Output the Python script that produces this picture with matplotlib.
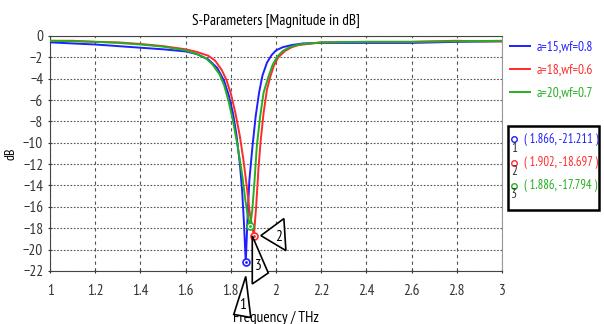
import matplotlib.pyplot as plt
import numpy as np
from matplotlib.patches import Polygon, Rectangle

plt.rcParams['font.family'] = ['PT Sans Narrow', 'DejaVu Sans']

blue = '#1f1fff'
red = '#ff2a2a'
green = '#22b022'

# S11 traces (frequency in THz, magnitude in dB)
f_a15 = [1.0, 1.1, 1.2, 1.3, 1.4, 1.5, 1.6, 1.65, 1.7, 1.74, 1.77, 1.79, 1.81, 1.825,
         1.84, 1.85, 1.858, 1.866, 1.874, 1.882, 1.895, 1.91, 1.925, 1.94, 1.96, 1.98,
         2.0, 2.03, 2.07, 2.12, 2.2, 2.4, 2.6, 2.7, 2.8, 3.0]
s_a15 = [-0.6, -0.7, -0.8, -0.95, -1.1, -1.25, -1.45, -1.7, -2.2, -3.0, -4.2, -5.5, -7.3, -9.3,
         -12.0, -14.5, -17.5, -21.211, -17.0, -13.5, -10.5, -7.5, -5.3, -3.7, -2.5, -1.8,
         -1.35, -1.05, -0.85, -0.7, -0.65, -0.65, -0.65, -0.6, -0.55, -0.5]

f_a18 = [1.0, 1.1, 1.2, 1.3, 1.4, 1.5, 1.6, 1.65, 1.7, 1.73, 1.76, 1.78, 1.80, 1.82, 1.84,
         1.855, 1.87, 1.885, 1.902, 1.912, 1.922, 1.932, 1.945, 1.96, 1.975, 1.99, 2.01,
         2.04, 2.07, 2.1, 2.2, 2.4, 2.6, 2.7, 2.8, 2.9, 3.0]
s_a18 = [-0.45, -0.45, -0.55, -0.6, -0.75, -0.95, -1.25, -1.5, -1.85, -2.3, -3.2, -4.1, -5.4, -7.2, -9.4,
         -11.5, -14.0, -16.8, -18.697, -16.0, -12.5, -9.8, -7.2, -5.0, -3.8, -2.8, -2.0,
         -1.4, -1.05, -0.85, -0.6, -0.55, -0.55, -0.5, -0.45, -0.5, -0.5]

f_a20 = [1.0, 1.1, 1.2, 1.3, 1.4, 1.5, 1.6, 1.65, 1.69, 1.72, 1.75, 1.77, 1.79, 1.81, 1.83,
         1.85, 1.865, 1.876, 1.886, 1.895, 1.905, 1.915, 1.93, 1.945, 1.965, 1.985, 2.005,
         2.03, 2.06, 2.1, 2.2, 2.4, 2.6, 2.8, 3.0]
s_a20 = [-0.45, -0.5, -0.55, -0.65, -0.8, -1.0, -1.35, -1.7, -2.1, -2.7, -3.6, -4.6, -6.1, -8.0, -10.3,
         -13.0, -15.5, -17.0, -17.794, -16.3, -13.5, -10.3, -7.5, -5.3, -3.9, -2.7, -1.95,
         -1.4, -1.05, -0.8, -0.6, -0.55, -0.55, -0.5, -0.45]

labels = ['a=15,wf=0.8', 'a=18,wf=0.6', 'a=20,wf=0.7']
mark_f = [1.866, 1.902, 1.886]
mark_s = [-21.211, -18.697, -17.794]

fig = plt.figure(figsize=(6.04, 3.24), dpi=100)
ax = fig.add_axes([0.083, 0.164, 0.748, 0.725])

ax.plot(f_a15, s_a15, color=blue, lw=1.4, label=labels[0], zorder=3)
ax.plot(f_a18, s_a18, color=red, lw=1.4, label=labels[1], zorder=3)
ax.plot(f_a20, s_a20, color=green, lw=1.4, label=labels[2], zorder=3)

cols = [blue, red, green]
for mf, ms, c in zip(mark_f, mark_s, cols):
    ax.plot(mf, ms, 'o', ms=5, mfc='white', mec=c, mew=1.2, zorder=5)
    ax.plot(mf, ms, '.', ms=2, color=c, zorder=6)

ax.set_xlim(1, 3)
ax.set_ylim(-22, 0)
ax.set_xticks(np.arange(1, 3.01, 0.2))
ax.set_xticklabels(['1', '1.2', '1.4', '1.6', '1.8', '2', '2.2', '2.4', '2.6', '2.8', '3'])
ax.set_yticks(np.arange(-22, 0.1, 2))
ax.tick_params(labelsize=11, length=3, direction='inout', colors='#333333')
ax.tick_params(axis='x', pad=8)
ax.grid(axis='y', color='#555555', ls=(0, (1.5, 1.5)), lw=0.8)
ax.grid(axis='x', color='#555555', ls=(0, (3, 3)), lw=0.8)
for s in ax.spines.values():
    s.set_color('#444444')
ax.spines['right'].set_color('#999999')

ax.set_title('S-Parameters [Magnitude in dB]', fontsize=11, pad=8)
ax.set_ylabel('dB', fontsize=10, labelpad=4)
ax.set_xlabel('Frequency / THz', fontsize=11, labelpad=9)

# marker callout triangles, offsets in pixels from each marker
px_x = 2.0 / (0.748 * 604)
px_y = 22.0 / (0.725 * 324)
callouts = [
    ([(0, 14), (-12, 52), (5, 55)], (-3, 43), '1'),
    ([(7, 0), (30, -17), (32, 15)], (25, 1), '2'),
    ([(2, 10), (2, 58), (18, 47)], (8, 40), '3'),
]
for (tri, lab, txt), mf, ms in zip(callouts, mark_f, mark_s):
    verts = [(mf + dx * px_x, ms - dy * px_y) for dx, dy in tri]
    ax.add_patch(Polygon(verts, closed=True, fc='white', ec='black', lw=1.2,
                         clip_on=False, zorder=7))
    ax.text(mf + lab[0] * px_x, ms - lab[1] * px_y, txt, fontsize=11,
            ha='center', va='center', zorder=8, clip_on=False)

fig.legend(loc='upper left', bbox_to_anchor=(0.845, 0.875), frameon=False,
           fontsize=9.5, labelcolor='linecolor', handlelength=1.5,
           handletextpad=0.5, labelspacing=0.75, borderpad=0, borderaxespad=0)

# marker readout box
fig.patches.append(Rectangle((508 / 604, 1 - 210 / 324), 91 / 604, 84 / 324,
                             transform=fig.transFigure, fc='white', ec='black', lw=1.8))
for i, (mf, ms, c) in enumerate(zip(mark_f, mark_s, cols)):
    y = 1 - (139 + i * 23.5) / 324
    fig.lines.append(plt.Line2D([514 / 604], [y], marker='o', ms=4, mfc='white',
                                mec=c, mew=1, transform=fig.transFigure))
    fig.text(514 / 604, y - 9 / 324, str(i + 1), fontsize=9.5, ha='center', va='center',
             color='#333333')
    fig.text(524 / 604, y, f'( {mf:.3f}, {ms:.3f} )', fontsize=9, color=c,
             ha='left', va='center')

fig.savefig('out.png', dpi=100)
